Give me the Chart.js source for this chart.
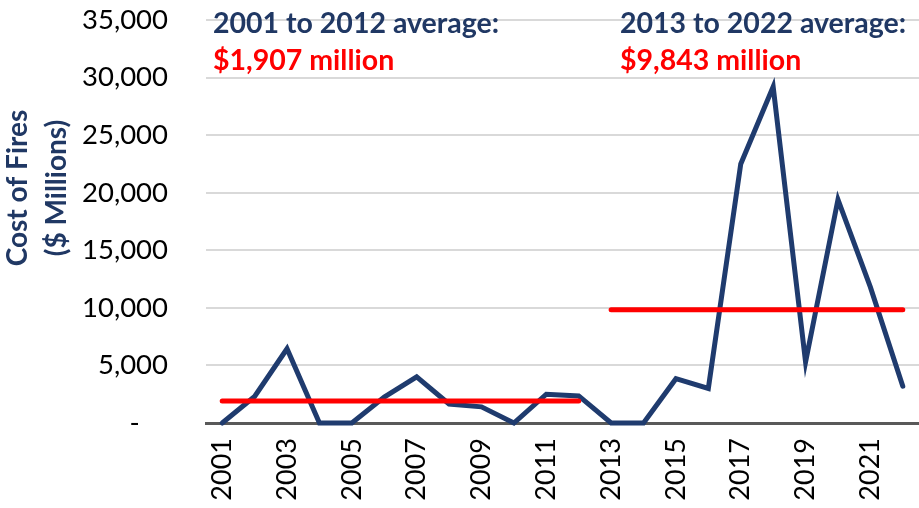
<!DOCTYPE html>
<html>
<head>
<meta charset="utf-8">
<script src="https://cdn.jsdelivr.net/npm/chart.js"></script>
<style>
  html, body { margin: 0; padding: 0; background: #fff; }
  canvas { display: block; }
</style>
</head>
<body>
<canvas id="chart" width="919" height="508"></canvas>
<script>
  const years = ['2001', '2002', '2003', '2004', '2005', '2006', '2007', '2008', '2009', '2010', '2011',
    '2012', '2013', '2014', '2015', '2016', '2017', '2018', '2019', '2020', '2021', '2022'];
  const costOfFires = [0, 2300, 6450, 0, 0, 2250, 4000, 1650, 1400, 0, 2500,
    2350, 0, 0, 3850, 3000, 22500, 29200, 5300, 19400, 11800, 3200];
  const avgEarly = 1907;   // 2001 to 2012
  const avgLate = 9843;    // 2013 to 2022
  const splitYear = '2013';

  const NAVY = '#1f3b6e';
  const TITLE_NAVY = '#203864';
  const RED = '#ff0000';

  const splitIdx = years.indexOf(splitYear);
  const earlyLine = years.map((y, i) => i < splitIdx ? avgEarly : null);
  const lateLine = years.map((y, i) => i >= splitIdx ? avgLate : null);

  // texts drawn on top of the plot
  const notes = {
    id: 'notes',
    afterDraw(chart) {
      const ctx = chart.ctx;
      ctx.save();
      ctx.textBaseline = 'middle';
      ctx.textAlign = 'left';
      ctx.font = 'bold 28.5px Lato';
      ctx.fillStyle = TITLE_NAVY;
      ctx.fillText('2001 to 2012 average:', 213, 24);
      ctx.fillText('2013 to 2022 average:', 620, 24);
      ctx.fillStyle = RED;
      ctx.fillText('$' + avgEarly.toLocaleString('en-US') + ' million', 213, 61);
      ctx.fillText('$' + avgLate.toLocaleString('en-US') + ' million', 620, 61);

      // y axis title, two lines
      ctx.fillStyle = TITLE_NAVY;
      ctx.textAlign = 'center';
      ctx.font = 'bold 28px Lato';
      ctx.translate(18, 188);
      ctx.rotate(-Math.PI / 2);
      ctx.fillText('Cost of Fires', 0, 0);
      ctx.fillText('($ Millions)', 0, 39);
      ctx.restore();
    }
  };

  new Chart(document.getElementById('chart').getContext('2d'), {
    type: 'line',
    data: {
      labels: years,
      datasets: [
        {
          label: 'Average',
          data: earlyLine,
          borderColor: RED,
          borderWidth: 5,
          borderCapStyle: 'round',
          pointRadius: 0,
          spanGaps: false,
          order: 0
        },
        {
          label: 'Average',
          data: lateLine,
          borderColor: RED,
          borderWidth: 5,
          borderCapStyle: 'round',
          pointRadius: 0,
          spanGaps: false,
          order: 0
        },
        {
          label: 'Cost of Fires',
          data: costOfFires,
          borderColor: NAVY,
          borderWidth: 5,
          borderCapStyle: 'round',
          borderJoinStyle: 'miter',
          pointRadius: 0,
          tension: 0,
          order: 1
        }
      ]
    },
    options: {
      responsive: false,
      devicePixelRatio: 1,
      animation: false,
      clip: false,
      layout: { padding: { top: 20, right: 0, bottom: 0, left: 0 } },
      plugins: {
        legend: { display: false },
        tooltip: { enabled: false }
      },
      scales: {
        x: {
          offset: true,
          grid: { display: false, drawTicks: false },
          border: { display: true, color: '#595959', width: 3 },
          ticks: {
            autoSkip: false,
            maxRotation: 90,
            minRotation: 90,
            padding: 15,
            color: '#000',
            font: { family: 'Lato', size: 27 },
            callback: function (value, index) {
              return index % 2 === 0 ? this.getLabelForValue(value) : '';
            }
          },
          afterFit: function (scale) {
            scale.height = 85;
            scale.paddingLeft = 0;
            scale.paddingRight = 0;
          }
        },
        y: {
          min: 0,
          max: 35000,
          grid: {
            drawTicks: false,
            lineWidth: 2,
            color: ctx => ctx.tick && ctx.tick.value === 0 ? '#595959' : '#d9d9d9'
          },
          border: { display: false },
          ticks: {
            stepSize: 5000,
            padding: 38,
            color: '#000',
            font: { family: 'Lato', size: 27.5 },
            callback: function (value) {
              return value === 0 ? '-    ' : value.toLocaleString('en-US');
            }
          },
          afterFit: function (scale) {
            scale.width = 206;
            scale.paddingTop = 0;
            scale.paddingBottom = 0;
          }
        }
      }
    },
    plugins: [notes]
  });
</script>
</body>
</html>
